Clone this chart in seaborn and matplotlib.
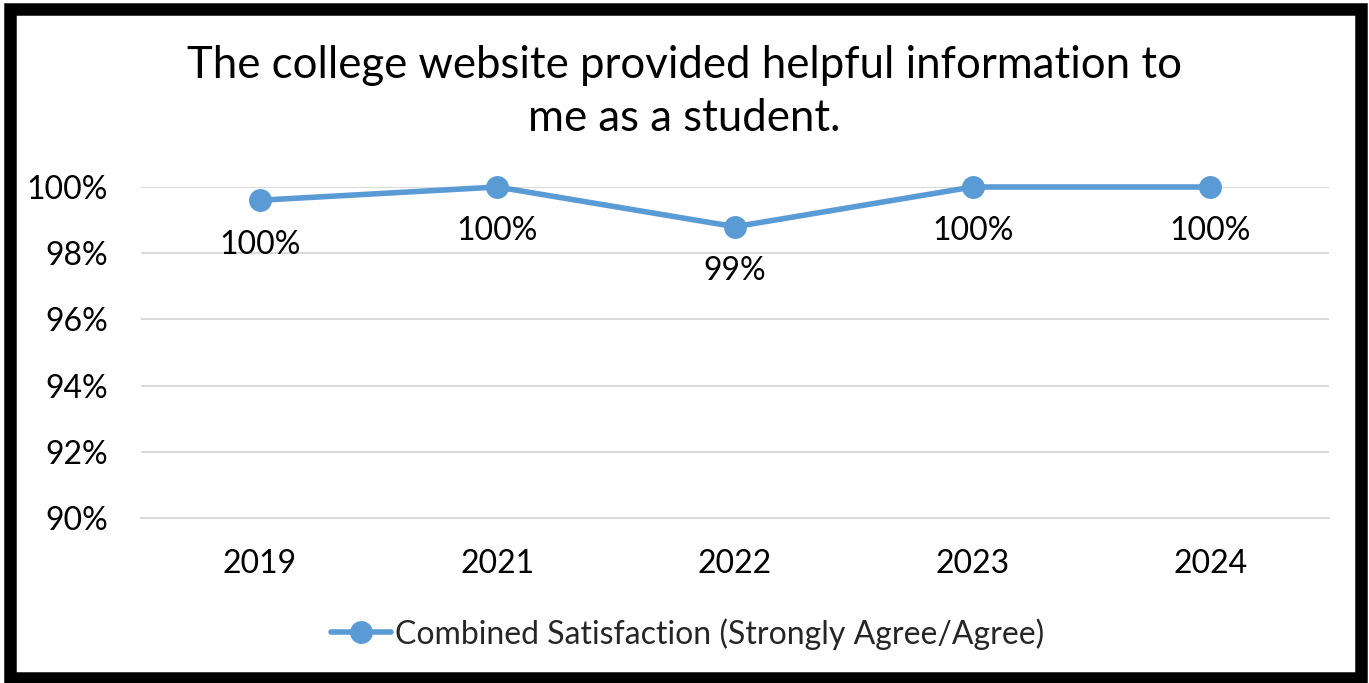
import matplotlib
matplotlib.use("Agg")
import matplotlib.pyplot as plt
import matplotlib.patches as mpatches
import matplotlib.ticker as mtick
import seaborn as sns
import pandas as pd

# chart data
years = ["2019", "2021", "2022", "2023", "2024"]
satisfaction = [0.996, 1.000, 0.988, 1.000, 1.000]
point_labels = ["100%", "100%", "99%", "100%", "100%"]
series_name = "Combined Satisfaction (Strongly Agree/Agree)"
title = "The college website provided helpful information to\nme as a student."

LINE_COLOR = "#5B9BD5"

sns.set_theme(style="white")
plt.rcParams["font.family"] = ["Lato", "DejaVu Sans"]

df = pd.DataFrame({"year": years, "value": satisfaction})

fig = plt.figure(figsize=(13.69, 6.83), dpi=100)
ax = fig.add_axes([0.103, 0.2416, 0.8678, 0.4846])

sns.lineplot(data=df, x="year", y="value", ax=ax, color=LINE_COLOR,
             linewidth=4, marker="o", markersize=16.5, markeredgewidth=0,
             label=series_name, clip_on=False, sort=False)

ax.set_xlim(-0.5, len(years) - 0.5)
ax.set_ylim(0.90, 1.00)
ax.set_yticks([0.90, 0.92, 0.94, 0.96, 0.98, 1.00])
ax.yaxis.set_major_formatter(mtick.PercentFormatter(1.0, decimals=0))
ax.grid(axis="y", color="#D9D9D9", linewidth=1.4)
ax.set_axisbelow(True)
for side in ["top", "right", "left", "bottom"]:
    ax.spines[side].set_visible(False)
ax.spines["bottom"].set_visible(True)
ax.spines["bottom"].set_color("#D9D9D9")
ax.spines["bottom"].set_linewidth(1.4)
ax.set_xlabel("")
ax.set_ylabel("")
ax.tick_params(axis="y", labelsize=23, pad=24, length=0, colors="black")
ax.tick_params(axis="x", labelsize=23, pad=22, length=0, colors="black")

# data labels below points
for i, (v, lab) in enumerate(zip(satisfaction, point_labels)):
    ax.annotate(lab, (i, v), xytext=(0, -32), textcoords="offset points",
                ha="center", va="center", fontsize=23, color="black")

fig.text(0.5, 0.865, title, ha="center", va="center", fontsize=31.5,
         color="black", linespacing=1.37)

ax.legend(loc="center", bbox_to_anchor=(0.502, 0.072),
          bbox_transform=fig.transFigure, frameon=False, fontsize=23,
          handlelength=1.9, handletextpad=0.1, markerscale=1.0)

# thick black frame round the chart
frame = mpatches.Rectangle((10 / 1369, 5 / 683), 1351 / 1369, 669 / 683,
                           transform=fig.transFigure, fill=False,
                           edgecolor="black", linewidth=9, zorder=10)
fig.patches.append(frame)

fig.savefig("out.png", dpi=100, facecolor="white")
